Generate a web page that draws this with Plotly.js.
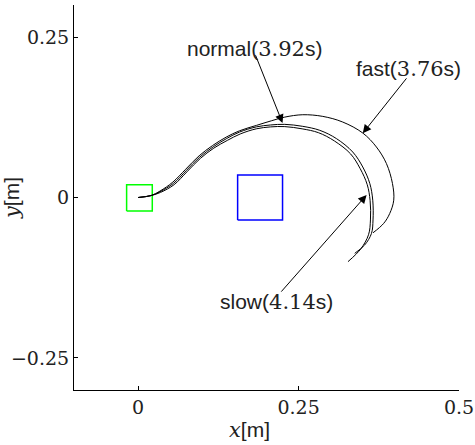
<!DOCTYPE html>
<html>
<head>
<meta charset="utf-8">
<script src="https://cdn.plot.ly/plotly-3.0.1.min.js"></script>
<style>html,body{margin:0;padding:0;background:#fff;}#chart{width:475px;height:445px;}</style>
</head>
<body>
<div id="chart"></div>
<script>
// trajectories [m]
var normalX = [0, 0.02, 0.034, 0.055, 0.075, 0.096, 0.117, 0.138, 0.158, 0.184, 0.206, 0.2285, 0.2565, 0.283, 0.309, 0.3344, 0.350, 0.361, 0.3656, 0.366, 0.3636, 0.353, 0.3375];
var normalY = [0, 0.003, 0.009, 0.022, 0.042, 0.063, 0.079, 0.092, 0.102, 0.110, 0.113, 0.114, 0.1109, 0.1047, 0.0918, 0.0709, 0.0476, 0.0218, -0.0042, -0.035, -0.056, -0.074, -0.087];
var slowX = [0, 0.02, 0.035, 0.056, 0.076, 0.097, 0.118, 0.139, 0.159, 0.184, 0.206, 0.2285, 0.2555, 0.281, 0.306, 0.331, 0.346, 0.357, 0.3615, 0.362, 0.359, 0.347, 0.327];
var slowY = [0, 0.003, 0.008, 0.020, 0.040, 0.061, 0.077, 0.089, 0.099, 0.107, 0.110, 0.1105, 0.107, 0.101, 0.088, 0.068, 0.045, 0.020, -0.005, -0.035, -0.058, -0.080, -0.100];
var fastX = [0, 0.02, 0.034, 0.054, 0.074, 0.095, 0.116, 0.137, 0.158, 0.1844, 0.2075, 0.2285, 0.2565, 0.2877, 0.3188, 0.35, 0.3713, 0.3869, 0.3963, 0.3983, 0.392, 0.3826, 0.366];
var fastY = [0, 0.003, 0.010, 0.024, 0.044, 0.065, 0.081, 0.094, 0.104, 0.1124, 0.1195, 0.1253, 0.129, 0.1264, 0.1176, 0.1005, 0.0787, 0.0529, 0.0218, -0.0042, -0.025, -0.0404, -0.055];

// start and obstacle squares [x0, x1, y0, y1]
var startBox = [-0.018, 0.022, -0.021, 0.02];
var obstacleBox = [0.155, 0.225, -0.035, 0.035];

// labels: text, label position, arrow tail, arrow tip
var labelNames = ['normal', 'fast', 'slow'];
var labelTimes = ['3.92', '3.76', '4.14'];
var labelX = [0.182, 0.421, 0.216];
var labelY = [0.232, 0.200, -0.163];
var tailX = [0.182, 0.420, 0.221];
var tailY = [0.224, 0.188, -0.149];
var tipX = [0.225, 0.350, 0.356];
var tipY = [0.116, 0.100, 0.004];

var xTicks = [0, 0.25, 0.5];
var xTickText = ['0', '0.25', '0.5'];
var yTicks = [-0.25, 0, 0.25];
var yTickText = ['\u22120.25', '0', '0.25'];

function curve(x, y) {
  return {x: x, y: y, type: 'scatter', mode: 'lines', line: {color: '#000', width: 1, shape: 'spline', smoothing: 1}, showlegend: false, hoverinfo: 'skip'};
}
function box(b, color) {
  return {x: [b[0], b[1], b[1], b[0], b[0]], y: [b[2], b[2], b[3], b[3], b[2]], type: 'scatter', mode: 'lines', line: {color: color, width: 1.5}, showlegend: false, hoverinfo: 'skip'};
}
var data = [box(startBox, '#00ff00'), box(obstacleBox, '#0000ff'), curve(normalX, normalY), curve(slowX, slowY), curve(fastX, fastY)];

var serif = 'DejaVu Serif';
var sans = 'Liberation Sans';
var ann = [];
for (var i = 0; i < labelNames.length; i++) {
  ann.push({x: tipX[i], y: tipY[i], xref: 'x', yref: 'y', ax: tailX[i], ay: tailY[i], axref: 'x', ayref: 'y', text: '', showarrow: true, arrowhead: 2, arrowsize: 1.7, arrowwidth: 1, arrowcolor: '#000'});
  ann.push({x: labelX[i], y: labelY[i], xref: 'x', yref: 'y', showarrow: false, text: labelNames[i] + '(<span style="font-family:' + serif + '">' + labelTimes[i] + '</span>s)', font: {family: sans, size: 21, color: '#222'}});
}
ann.push({x: 0.457, y: -0.104, xref: 'paper', yref: 'paper', showarrow: false, xanchor: 'center', yanchor: 'middle', text: '<span style="font-family:' + serif + '"><i>x</i></span>[m]', font: {family: sans, size: 21, color: '#222'}});

var layout = {
  width: 475, height: 445,
  margin: {l: 74, r: 16, t: 5, b: 55, pad: 0},
  paper_bgcolor: '#fff', plot_bgcolor: '#fff',
  font: {family: serif, size: 19, color: '#222'},
  showlegend: false,
  xaxis: {range: [-0.1, 0.5], tickvals: xTicks, ticktext: xTickText, ticks: 'inside', ticklen: 4, tickcolor: '#000', showgrid: false, zeroline: false, showline: true, linecolor: '#000', linewidth: 1, tickfont: {family: serif, size: 19, color: '#222'}, fixedrange: true},
  yaxis: {range: [-0.3, 0.3], tickvals: yTicks, ticktext: yTickText, ticks: 'inside', ticklen: 4, tickcolor: '#000', showgrid: false, zeroline: false, showline: true, linecolor: '#000', linewidth: 1, tickfont: {family: serif, size: 19, color: '#222'}, fixedrange: true,
    title: {text: '<span style="font-family:' + serif + '"><i>y</i></span>[m]', font: {family: sans, size: 21, color: '#222'}, standoff: 6}},
  annotations: ann
};
Plotly.newPlot('chart', data, layout, {displayModeBar: false, staticPlot: true});
</script>
</body>
</html>
